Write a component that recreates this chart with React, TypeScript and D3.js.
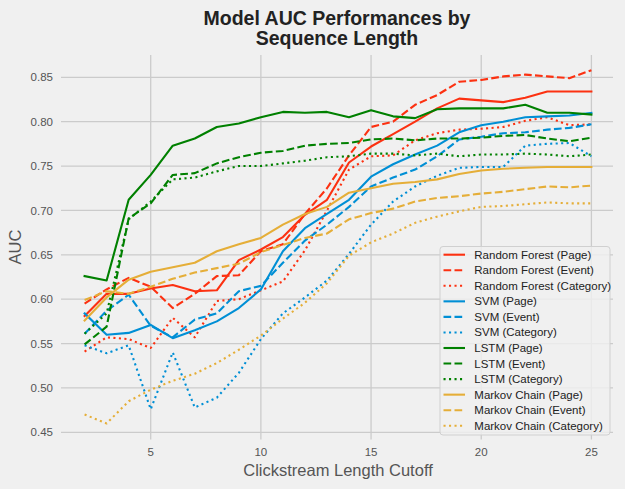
import React from "react";
import * as d3 from "d3";

const xs = [2, 3, 4, 5, 6, 7, 8, 9, 10, 11, 12, 13, 14, 15, 16, 17, 18, 19, 20, 21, 22, 23, 24, 25];

const rfPage = [0.581, 0.606, 0.606, 0.612, 0.616, 0.609, 0.610, 0.644, 0.656, 0.670, 0.695, 0.712, 0.754, 0.772, 0.786, 0.800, 0.815, 0.826, 0.824, 0.822, 0.827, 0.834, 0.834, 0.834];
const rfEvent = [0.595, 0.611, 0.624, 0.614, 0.590, 0.606, 0.626, 0.627, 0.654, 0.662, 0.696, 0.725, 0.762, 0.794, 0.800, 0.819, 0.830, 0.845, 0.847, 0.851, 0.853, 0.851, 0.849, 0.858];
const rfCat = [0.541, 0.557, 0.555, 0.545, 0.579, 0.557, 0.598, 0.600, 0.610, 0.620, 0.655, 0.700, 0.746, 0.761, 0.762, 0.779, 0.787, 0.791, 0.792, 0.794, 0.801, 0.805, 0.796, 0.797];

const svmPage = [0.584, 0.560, 0.562, 0.571, 0.556, 0.565, 0.575, 0.590, 0.611, 0.654, 0.680, 0.696, 0.712, 0.738, 0.752, 0.763, 0.773, 0.788, 0.796, 0.800, 0.805, 0.806, 0.807, 0.810];
const svmEvent = [0.561, 0.587, 0.605, 0.570, 0.557, 0.577, 0.584, 0.609, 0.615, 0.641, 0.666, 0.684, 0.704, 0.727, 0.737, 0.746, 0.761, 0.780, 0.783, 0.787, 0.788, 0.791, 0.793, 0.797];
const svmCat = [0.548, 0.539, 0.548, 0.476, 0.540, 0.478, 0.489, 0.517, 0.555, 0.584, 0.602, 0.621, 0.651, 0.684, 0.710, 0.727, 0.739, 0.748, 0.749, 0.749, 0.773, 0.775, 0.776, 0.761];

const lstmPage = [0.626, 0.621, 0.712, 0.740, 0.773, 0.781, 0.794, 0.798, 0.805, 0.811, 0.810, 0.811, 0.805, 0.813, 0.806, 0.804, 0.814, 0.815, 0.815, 0.815, 0.819, 0.810, 0.810, 0.808];
const lstmEvent = [0.549, 0.569, 0.691, 0.708, 0.740, 0.742, 0.753, 0.760, 0.765, 0.767, 0.773, 0.775, 0.776, 0.780, 0.781, 0.779, 0.781, 0.781, 0.782, 0.784, 0.785, 0.781, 0.778, 0.782];
const lstmCat = [0.561, 0.584, 0.690, 0.710, 0.735, 0.737, 0.744, 0.750, 0.750, 0.753, 0.756, 0.760, 0.761, 0.764, 0.764, 0.762, 0.764, 0.761, 0.763, 0.763, 0.764, 0.763, 0.761, 0.763];

const mcPage = [0.576, 0.602, 0.622, 0.631, 0.636, 0.641, 0.654, 0.662, 0.669, 0.684, 0.696, 0.704, 0.720, 0.725, 0.730, 0.732, 0.735, 0.741, 0.745, 0.747, 0.748, 0.749, 0.749, 0.749];
const mcEvent = [0.599, 0.609, 0.606, 0.614, 0.623, 0.630, 0.635, 0.640, 0.653, 0.661, 0.669, 0.674, 0.690, 0.697, 0.702, 0.710, 0.714, 0.716, 0.719, 0.721, 0.724, 0.727, 0.726, 0.728];
const mcCat = [0.470, 0.460, 0.485, 0.498, 0.508, 0.516, 0.528, 0.543, 0.559, 0.578, 0.596, 0.618, 0.649, 0.664, 0.674, 0.686, 0.693, 0.699, 0.704, 0.705, 0.707, 0.709, 0.708, 0.708];

const xTicks = [5, 10, 15, 20, 25];
const yTicks = [0.45, 0.5, 0.55, 0.6, 0.65, 0.7, 0.75, 0.8, 0.85];

const RED = "#fc3111";
const BLUE = "#008fd5";
const GREEN = "#008000";
const ORANGE = "#e5ae38";

const series = [
  { name: "Random Forest (Page)", values: rfPage, color: RED, style: "solid" },
  { name: "Random Forest (Event)", values: rfEvent, color: RED, style: "dashed" },
  { name: "Random Forest (Category)", values: rfCat, color: RED, style: "dotted" },
  { name: "SVM (Page)", values: svmPage, color: BLUE, style: "solid" },
  { name: "SVM (Event)", values: svmEvent, color: BLUE, style: "dashed" },
  { name: "SVM (Category)", values: svmCat, color: BLUE, style: "dotted" },
  { name: "LSTM (Page)", values: lstmPage, color: GREEN, style: "solid" },
  { name: "LSTM (Event)", values: lstmEvent, color: GREEN, style: "dashed" },
  { name: "LSTM (Category)", values: lstmCat, color: GREEN, style: "dotted" },
  { name: "Markov Chain (Page)", values: mcPage, color: ORANGE, style: "solid" },
  { name: "Markov Chain (Event)", values: mcEvent, color: ORANGE, style: "dashed" },
  { name: "Markov Chain (Category)", values: mcCat, color: ORANGE, style: "dotted" },
];

const W = 625;
const H = 489;
const plot = { left: 61, right: 613, top: 55, bottom: 439.5 };
const FONT = "'Liberation Sans', Arial, sans-serif";

function dash(style: string) {
  if (style === "dashed") return "7.7,3.3";
  if (style === "dotted") return "2.1,3.4";
  return undefined;
}

export default function App() {
  const x = d3.scaleLinear().domain([2, 25]).range([84.6, 591.4]);
  const y = d3.scaleLinear().domain([0.45, 0.85]).range([432.3, 77.3]);
  const line = d3
    .line<number>()
    .x((_, i) => x(xs[i]))
    .y((d) => y(d));

  const legX = 440;
  const legY = 246.5;
  const legW = 170;
  const rowH = 15.55;
  const legH = 188.5;

  return (
    <div style={{ position: "absolute", left: 0, top: 0 }}>
      <svg width={W} height={H} style={{ display: "block", background: "#f0f0f0" }}>
        <rect x={0} y={0} width={W} height={H} fill="#f0f0f0" />
        {/* grid */}
        {yTicks.map((t) => (
          <line key={"gy" + t} x1={plot.left} x2={plot.right} y1={y(t)} y2={y(t)} stroke="#cbcbcb" strokeWidth={1.3} />
        ))}
        {xTicks.map((t) => (
          <line key={"gx" + t} x1={x(t)} x2={x(t)} y1={plot.top} y2={plot.bottom} stroke="#cbcbcb" strokeWidth={1.3} />
        ))}
        {/* tick labels */}
        {yTicks.map((t) => (
          <text key={"ty" + t} x={53} y={y(t)} dy="0.36em" textAnchor="end" fontFamily={FONT} fontSize={11.5} fill="#555">
            {d3.format(".2f")(t)}
          </text>
        ))}
        {xTicks.map((t) => (
          <text key={"tx" + t} x={x(t)} y={452} dy="0.36em" textAnchor="middle" fontFamily={FONT} fontSize={11.5} fill="#555">
            {t}
          </text>
        ))}
        {/* lines */}
        {series.map((s) => (
          <path
            key={s.name}
            d={line(s.values) || ""}
            fill="none"
            stroke={s.color}
            strokeWidth={2.1}
            strokeDasharray={dash(s.style)}
            strokeLinejoin="round"
            strokeLinecap={s.style === "solid" ? "square" : "butt"}
          />
        ))}
        {/* title */}
        <text x={337} y={25} textAnchor="middle" fontFamily={FONT} fontWeight="bold" fontSize={19.5} fill="#222">
          Model AUC Performances by
        </text>
        <text x={337} y={45.3} textAnchor="middle" fontFamily={FONT} fontWeight="bold" fontSize={19.5} fill="#222">
          Sequence Length
        </text>
        {/* axis labels */}
        <text x={338} y={476} textAnchor="middle" fontFamily={FONT} fontSize={16.5} fill="#555">
          Clickstream Length Cutoff
        </text>
        <text transform={`translate(21,247) rotate(-90)`} textAnchor="middle" fontFamily={FONT} fontSize={16.5} fill="#555">
          AUC
        </text>
        {/* legend */}
        <rect x={legX} y={legY} width={legW} height={legH} rx={3} fill="#f0f0f0" fillOpacity={0.8} stroke="#d0d0d0" strokeWidth={1} />
        {series.map((s, i) => {
          const cy = 254.7 + i * rowH;
          return (
            <g key={"leg" + s.name}>
              <line x1={443.5} x2={465} y1={cy} y2={cy} stroke={s.color} strokeWidth={2.1} strokeDasharray={dash(s.style)} />
              <text x={474.3} y={cy} dy="0.35em" fontFamily={FONT} fontSize={11.5} fill="#222">
                {s.name}
              </text>
            </g>
          );
        })}
      </svg>
    </div>
  );
}
